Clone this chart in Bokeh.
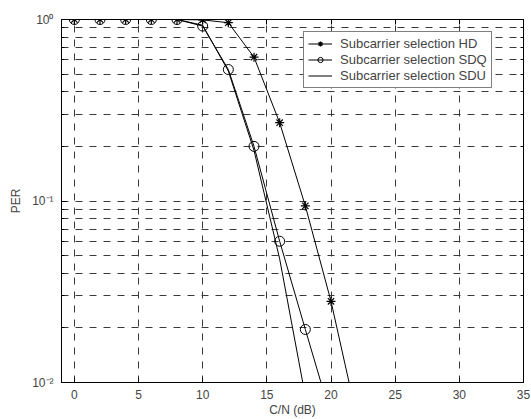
from bokeh.plotting import figure
from bokeh.models import (Range1d, LinearAxis, LogAxis, FixedTicker,
                          Legend, LegendItem, CustomJSTickFormatter)
from bokeh.embed import file_html
from bokeh.resources import INLINE

# ---- data ----
cn_hd = [0, 2, 4, 6, 8, 10, 12, 14, 16, 18, 20, 22]
per_hd = [1.0, 1.0, 1.0, 1.0, 1.0, 0.995, 0.96, 0.62, 0.27, 0.094, 0.028, 0.0065]

cn_sdq = [0, 2, 4, 6, 8, 10, 12, 14, 16, 18, 20]
per_sdq = [1.0, 1.0, 1.0, 1.0, 1.0, 0.92, 0.53, 0.20, 0.060, 0.0196, 0.0065]

cn_sdu = [0, 2, 4, 6, 8, 10, 12, 14, 16, 18]
per_sdu = [1.0, 1.0, 1.0, 1.0, 1.0, 0.93, 0.52, 0.19, 0.048, 0.0084]

x_ticks = [0, 5, 10, 15, 20, 25, 30, 35]
y_ticks = [0.01, 0.1, 1.0]
y_minor = [0.02, 0.03, 0.04, 0.05, 0.06, 0.07, 0.08, 0.09,
           0.2, 0.3, 0.4, 0.5, 0.6, 0.7, 0.8, 0.9]
y_tick_labels = {0.01: "10\u207b\u00b2", 0.1: "10\u207b\u00b9", 1: "10\u2070"}

FONT = "Liberation Sans"
GRID = "#3a3a3a"
DASH = "7 7"

p = figure(width=531, height=419, y_axis_type="log",
           x_range=Range1d(-1, 35), y_range=Range1d(0.01, 1.0),
           output_backend="svg", toolbar_location=None,
           min_border_left=61, min_border_right=8,
           min_border_top=19, min_border_bottom=36)
p.background_fill_color = "white"
p.border_fill_color = "white"
p.outline_line_color = "black"
p.outline_line_width = 1

# axes
xa = p.xaxis[0]
xa.ticker = FixedTicker(ticks=x_ticks)
xa.axis_label = "C/N (dB)"
ya = p.yaxis[0]
ya.ticker = FixedTicker(ticks=y_ticks, minor_ticks=y_minor)
ya.major_label_overrides = y_tick_labels
ya.axis_label = "PER"
for ax in (xa, ya):
    ax.axis_label_text_font = FONT
    ax.axis_label_text_font_size = "12px"
    ax.axis_label_text_font_style = "normal"
    ax.major_label_text_font = FONT
    ax.major_label_text_font_size = "12px"
    ax.major_tick_in = 5
    ax.major_tick_out = 0
    ax.minor_tick_in = 3
    ax.minor_tick_out = 0
    ax.axis_line_color = "black"
    ax.major_tick_line_color = "black"
    ax.minor_tick_line_color = "black"
xa.minor_tick_line_color = None
xa.major_label_standoff = 7
xa.axis_label_standoff = 1
ya.major_label_standoff = 8
ya.axis_label_standoff = 6

blank = CustomJSTickFormatter(code="return ''")
top = LinearAxis(ticker=FixedTicker(ticks=x_ticks), formatter=blank,
                 major_label_text_font_size="0px",
                 major_tick_in=5, major_tick_out=0, minor_tick_line_color=None,
                 major_label_standoff=0)
right = LogAxis(ticker=FixedTicker(ticks=y_ticks, minor_ticks=y_minor), formatter=blank,
                major_label_text_font_size="0px",
                major_tick_in=5, major_tick_out=0, minor_tick_in=3, minor_tick_out=0,
                major_label_standoff=0)
p.add_layout(top, "above")
p.add_layout(right, "right")

# grids
p.xgrid.ticker = FixedTicker(ticks=x_ticks)
p.xgrid.grid_line_color = GRID
p.xgrid.grid_line_dash = DASH
p.xgrid.grid_line_width = 1
p.ygrid.ticker = FixedTicker(ticks=y_ticks, minor_ticks=y_minor)
p.ygrid.grid_line_color = GRID
p.ygrid.grid_line_dash = DASH
p.ygrid.minor_grid_line_color = GRID
p.ygrid.minor_grid_line_dash = DASH

# series
l_hd = p.line(cn_hd, per_hd, line_color="black", line_width=1)
m_hd = p.scatter(cn_hd, per_hd, marker="asterisk", size=9, line_color="black", line_width=1.2)
l_sdq = p.line(cn_sdq, per_sdq, line_color="black", line_width=1)
m_sdq = p.scatter(cn_sdq, per_sdq, marker="circle", size=10, line_color="black",
                  fill_color=None, line_width=1)
l_sdu = p.line(cn_sdu, per_sdu, line_color="black", line_width=1)

legend = Legend(items=[
    LegendItem(label="Subcarrier selection HD", renderers=[l_hd, m_hd]),
    LegendItem(label="Subcarrier selection SDQ", renderers=[l_sdq, m_sdq]),
    LegendItem(label="Subcarrier selection SDU", renderers=[l_sdu]),
], location=(242, 294))
legend.label_text_font = FONT
legend.label_text_font_size = "13px"
legend.label_height = 13
legend.glyph_height = 13
legend.glyph_width = 24
legend.spacing = 1
legend.padding = 4
legend.margin = 0
legend.label_standoff = 8
legend.border_line_color = "black"
legend.border_line_width = 1
legend.background_fill_color = "white"
legend.background_fill_alpha = 1
p.add_layout(legend, "center")

open("out.html", "w").write(file_html(p, INLINE))
